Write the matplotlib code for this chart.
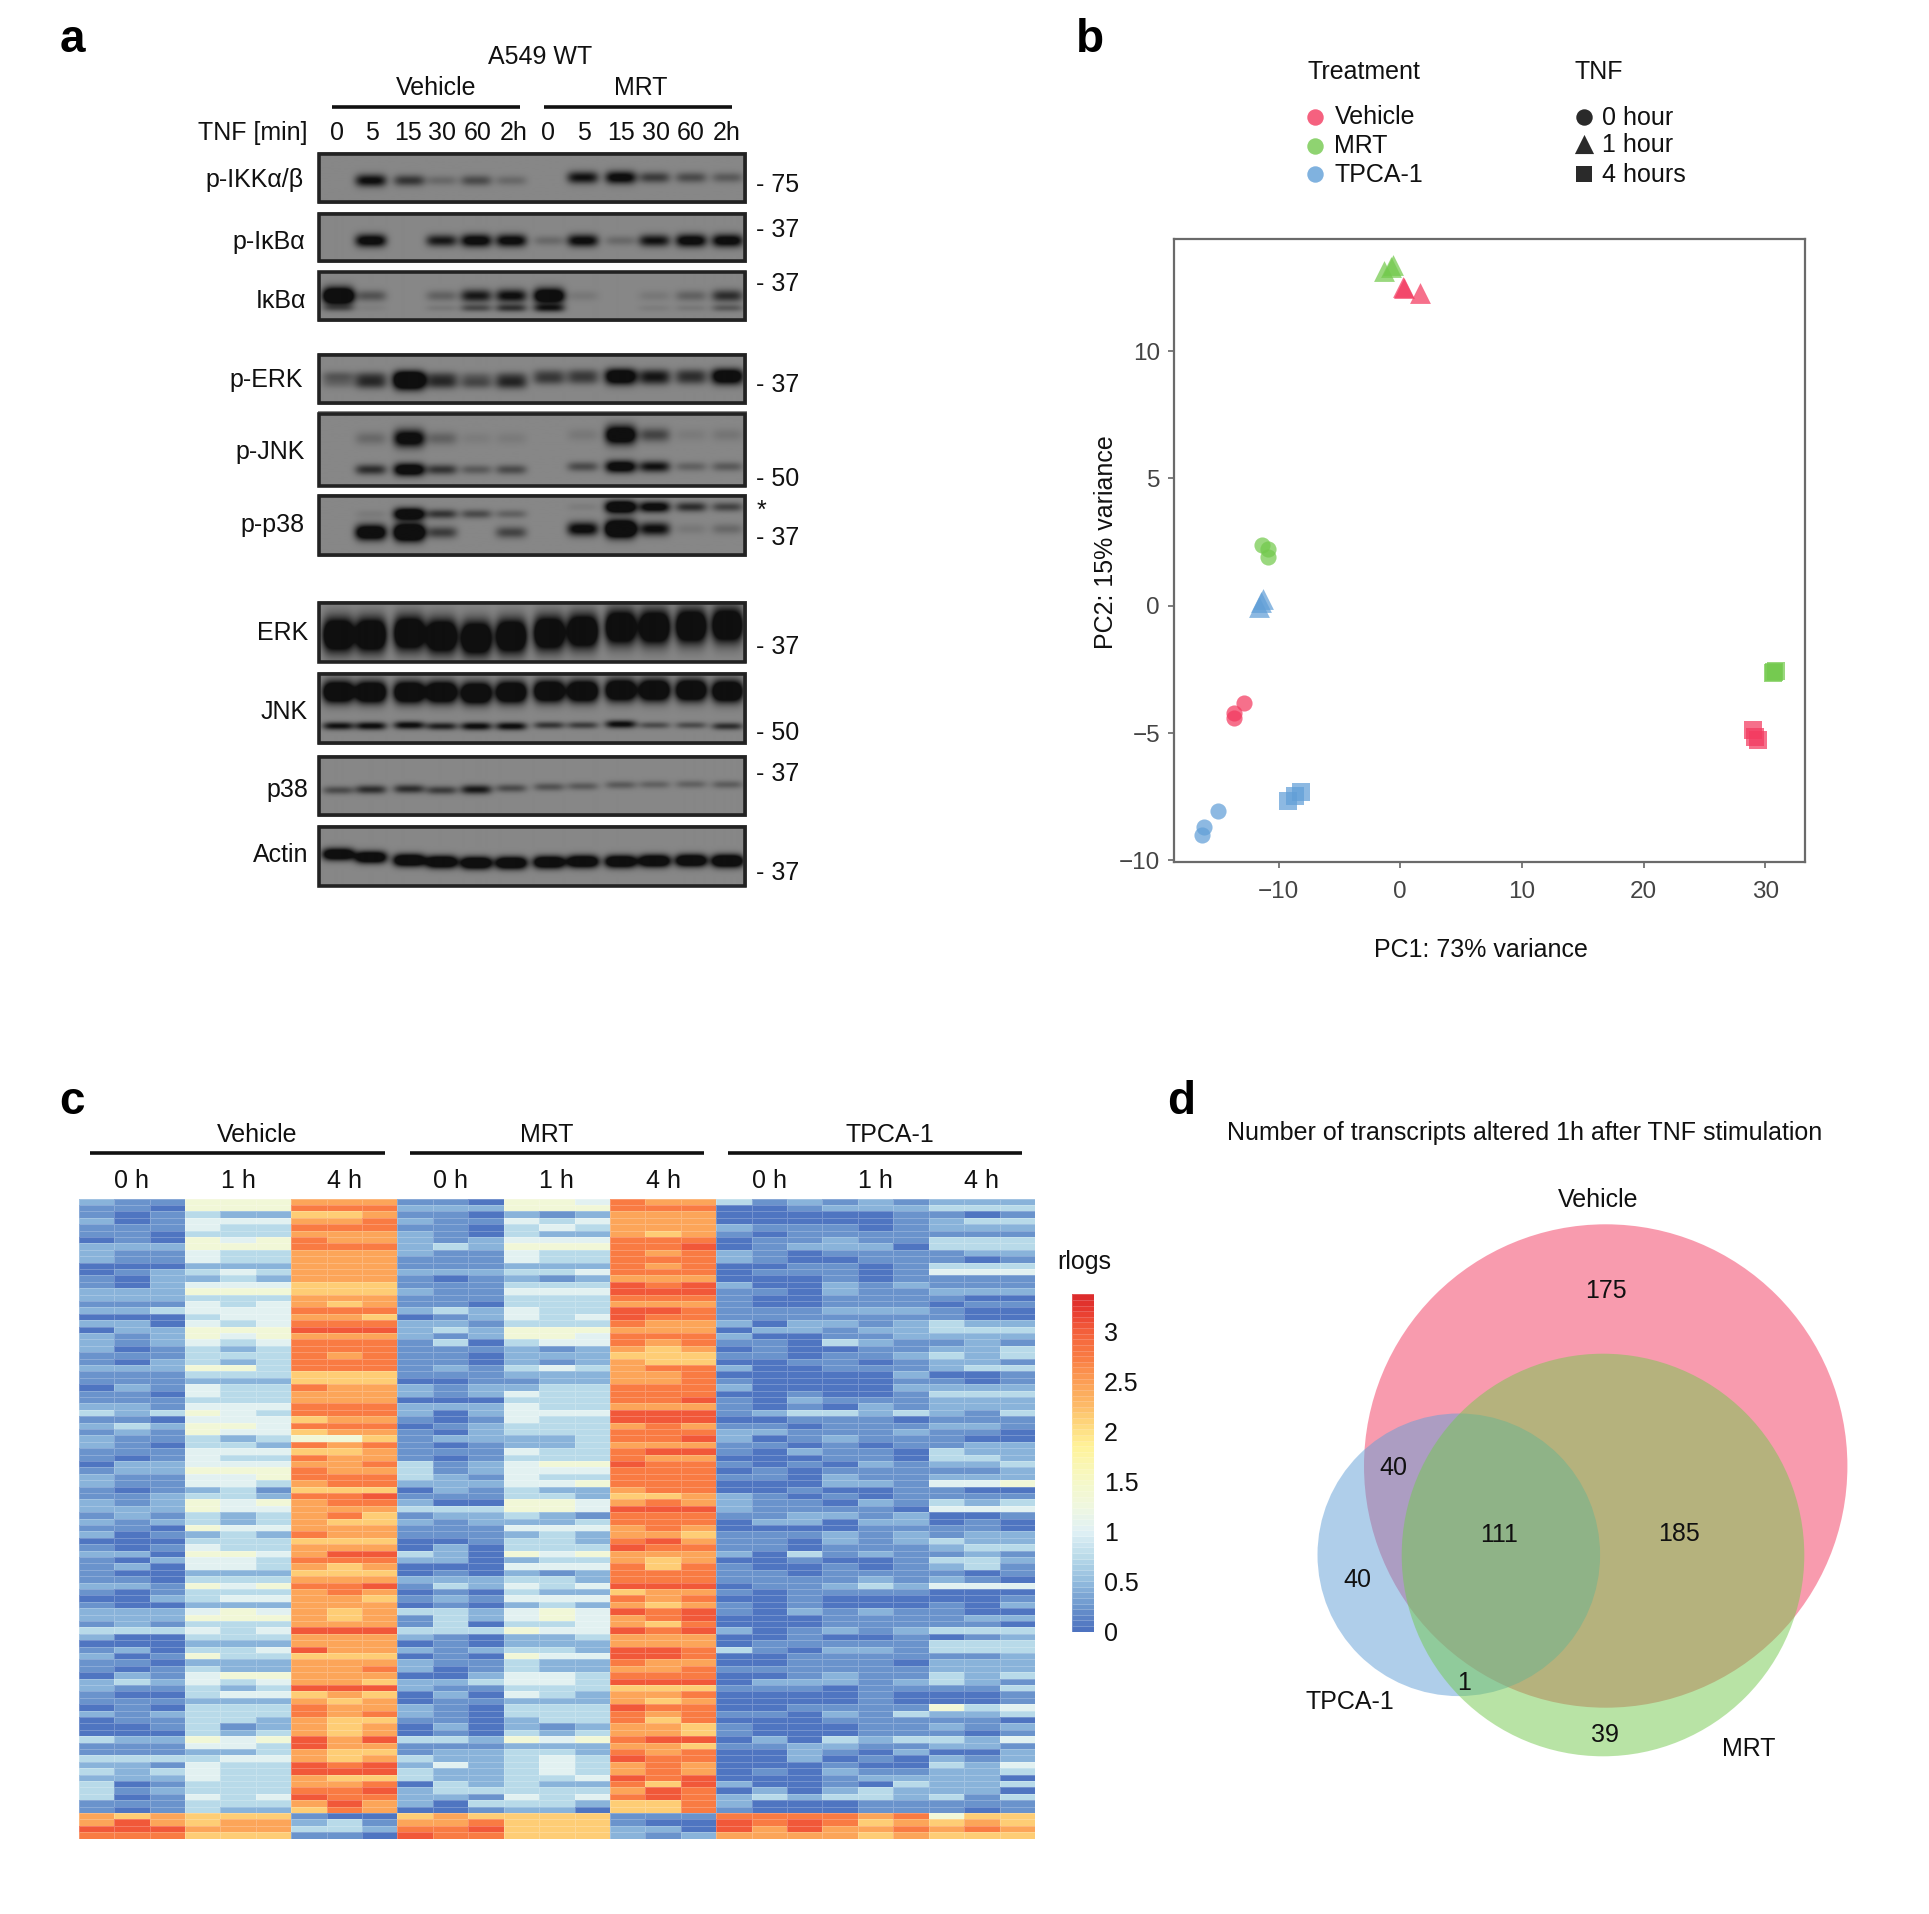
import numpy as np
import matplotlib
matplotlib.use("Agg")
import matplotlib.pyplot as plt
from matplotlib.colors import LinearSegmentedColormap
from matplotlib.patches import Circle, Rectangle

plt.rcParams['font.family'] = ['Liberation Sans', 'DejaVu Sans']

W, H = 1929, 1914

# panel a, band strength per lane (0, 5, 15, 30, 60, 2h for Vehicle then MRT)
lane_labels = ['0', '5', '15', '30', '60', '2h', '0', '5', '15', '30', '60', '2h']
p_ikk = [0, .85, .55, .2, .4, .2, 0, .8, .95, .5, .4, .3]
p_ikba = [0, 1, 0, .75, 1, .95, .2, .9, .2, .8, 1, 1]
ikba_up = [1.6, .35, 0, .25, .75, .85, 1.3, .1, 0, .1, .25, .6]
ikba_low = [.3, .05, 0, .1, .4, .55, .7, 0, 0, .07, .1, .3]
p_erk_up = [.3, .35, .9, .35, .2, .3, .25, .3, .7, .4, .35, .7]
p_erk_low = [.2, .55, 1.2, .55, .4, .6, .45, .4, .85, .6, .45, .8]
p_jnk_up = [0, .2, 1.1, .25, .07, .08, 0, .1, 1.3, .45, .08, .12]
p_jnk_low = [0, .6, 1.2, .55, .3, .4, 0, .4, 1.1, .8, .25, .3]
p_p38_up = [0, .08, 1.3, .55, .4, .25, 0, .07, 1.4, 1, .6, .45]
p_p38_low = [0, 1.3, 1.7, .5, 0, .45, 0, .95, 1.8, .85, .1, .2]
erk = [1.6] * 12
jnk_up = [1.6] * 12
jnk_low = [.8, .85, .85, .7, .85, .85, .55, .5, .85, .4, .4, .6]
p38 = [.4, .6, .6, .5, .75, .4, .35, .3, .3, .25, .25, .28]
actin = [1.3, 1.3, 1.4, 1.4, 1.4, 1.4, 1.4, 1.4, 1.4, 1.4, 1.4, 1.5]

# panel b, PCA scores
pc_vehicle_0h = ([-12.87, -13.67, -13.67], [-3.81, -4.21, -4.41])
pc_mrt_0h = ([-11.39, -10.84, -10.84], [2.38, 2.21, 1.93])
pc_tpca_0h = ([-14.98, -16.17, -16.33], [-8.06, -8.70, -9.0])
pc_vehicle_1h = ([0.2, 0.32, 1.63], [12.52, 12.49, 12.27])
pc_mrt_1h = ([-0.6, -0.8, -1.31], [13.39, 13.29, 13.13])
pc_tpca_1h = ([-11.27, -11.43, -11.63], [0.26, 0.13, -0.03])
pc_vehicle_4h = ([29.0, 29.16, 29.44], [-4.86, -5.15, -5.28])
pc_mrt_4h = ([30.88, 30.72, 30.6], [-2.58, -2.61, -2.63])
pc_tpca_4h = ([-8.17, -8.69, -9.2], [-7.30, -7.46, -7.65])

# panel c, one digit per cell, looked up in heat_levels (rlog)
heat_levels = [0.05, 0.25, 0.45, 0.75, 1.05, 1.35, 2.15, 2.45, 2.75, 3.05]
heat_vehicle = [
    '211555777', '110555888', '101322667', '201444778', '111433888', '110333777', '010545877', '222555888', '211433777', '211433777',
    '000222777', '012343777', '102232777', '102444666', '222555666', '222333777', '111434767', '223444888', '000344776', '220434888',
    '022555999', '212545777', '212434888', '201323888', '111333878', '102323888', '222553888', '111333666', '111222666', '021433877',
    '110433777', '111333777', '221444888', '323543888', '110444677', '232554888', '121544677', '211323556', '210332878', '111444667',
    '101433877', '022444778', '122555877', '211445888', '211443788', '101231666', '112332889', '212545788', '222544777', '121323786',
    '212323766', '110544777', '201232877', '000333666', '101433777', '220554799', '102443888', '120443767', '100222666', '110333777',
    '221545889', '101333787', '002344776', '100222777', '222454767', '222555767', '121333777', '333434999', '200333777', '000222777',
    '120334977', '201533666', '110222777', '101322778', '021455777', '232434776', '211323999', '100344676', '111222767', '010333877',
    '212333878', '011332766', '001312767', '000323767', '322545979', '111443977', '111223766', '333344767', '221433989', '323433999',
    '222433766', '301333778', '312333889', '301434988', '111333797', '101322687', '767666100', '797677231', '999777332', '888666110',
]
heat_mrt = [
    '110554877', '222555888', '110212777', '211434777', '110343777', '210322767', '212444888', '232555889', '211433878', '111433888',
    '111222878', '222334888', '101212777', '111333989', '211444999', '111333888', '110333777', '232433998', '012434988', '221333877',
    '232555777', '212554888', '130344878', '111212767', '110222666', '110212766', '121343788', '111222778', '001122778', '212233888',
    '212433888', '000333889', '222433777', '202444999', '101433999', '012333787', '102333888', '122223889', '101223777', '111433899',
    '101333877', '312455988', '312444888', '321433888', '222445888', '021322788', '111332667', '200554787', '333554999', '122321888',
    '212223888', '111444787', '111232776', '001332897', '020333988', '320545777', '220233767', '000444868', '010212888', '222332888',
    '132434999', '010322677', '121444878', '010232767', '332454989', '132454789', '130334768', '333544989', '210223777', '010222777',
    '212332998', '010544998', '211322877', '201322778', '002443888', '223443999', '211333666', '020432778', '011222767', '210333988',
    '210333878', '110233868', '020212776', '010323776', '332545899', '111222776', '122332878', '322343988', '242343787', '322343787',
    '322334989', '032322869', '233333798', '221434898', '203332668', '001220668', '676666111', '778666100', '889666220', '988666212',
]
heat_tpca = [
    '312121222', '001222333', '000001101', '000001233', '211101222', '101111111', '011211333', '012220333', '210111122', '210011101',
    '001101333', '011101444', '000101111', '200212111', '110211222', '100111100', '100111011', '111222100', '111111100', '202212322',
    '022122333', '200112222', '110321121', '010011223', '110112323', '001101221', '200111233', '000002001', '100001101', '200002222',
    '001001333', '102111222', '101021222', '123323213', '001110111', '110111221', '221112110', '201211100', '110101122', '102110322',
    '000110332', '101021223', '010111112', '110211222', '000221445', '001001100', '210101111', '211021323', '211110444', '112212001',
    '022022010', '000011110', '111212122', '110212322', '110111233', '203121121', '001001332', '100101231', '110111101', '111121210',
    '011232444', '101111000', '001000001', '101000102', '102121100', '000111122', '000111110', '201212333', '001001012', '011111333',
    '310221333', '001111112', '001110222', '111111222', '001211323', '022212321', '111011113', '000010001', '000010001', '001111534',
    '110213223', '000111110', '100011212', '100011101', '020323324', '112211221', '002102002', '002010212', '000100324', '010211223',
    '000122220', '200103223', '020232220', '232332313', '200011111', '100011101', '888878566', '989867676', '979778787', '777767666',
]
heat_hours = ['0 h', '1 h', '4 h'] * 3
heat_ticks = [0, 0.5, 1, 1.5, 2, 2.5, 3]
heat_tick_labels = ['0', '0.5', '1', '1.5', '2', '2.5', '3']

# panel d, transcript counts
venn_counts = {'vehicle': 175, 'vehicle_tpca': 40, 'all': 111, 'vehicle_mrt': 185, 'tpca': 40, 'mrt_tpca': 1, 'mrt': 39}

red = '#f3395f'
green = '#73c94d'
blue = '#619fd7'


def px_axes(x0, y0, x1, y1):
    return fig.add_axes([x0 / W, 1 - y1 / H, (x1 - x0) / W, (y1 - y0) / H])


def label(x, y, s, size=18, ha='center', **kw):
    ax.text(x, y + 1.5, s, fontsize=size, ha=ha, va='center', color=kw.pop('color', '#111111'), **kw)


fig = plt.figure(figsize=(W / 100, H / 100), dpi=100, facecolor='white')
ax = fig.add_axes([0, 0, 1, 1])
ax.axis('off')

for x, y, s in [(72, 39, 'a'), (1090, 39, 'b'), (72, 1100, 'c'), (1181, 1100, 'd')]:
    label(x, y, s, size=33, fontweight='bold', color='black')

# ---- a: western blots
lane_x = (np.array([375, 452, 543, 620, 702, 785, 875, 955, 1045, 1125, 1212, 1298]) / 2.376) + 180
blot_x0, blot_x1 = 317.6, 746


def six_six(a, b):
    return [a] * 6 + [b] * 6


blots = [
    ('p-IKKα/β', 152.6, 203.9, 304, 178, 15.5, [(p_ikk, six_six(28, 25), 6.5)]),
    ('p-IκBα', 212, 262.8, 305.4, 241, 15.5, [(p_ikba, 28.4, 6.5)]),
    ('IκBα', 270.9, 321.8, 306, 299, 15.5, [(ikba_up, 24.6, 7), (ikba_low, 36.8, 4.5)]),
    ('p-ERK', 353.3, 404.9, 303, 378, 16, [(p_erk_up, six_six(23, 20), 6.5), (p_erk_low, six_six(29.8, 26), 7)]),
    ('p-JNK', 412.3, 487.4, 305, 451, 15.5, [(p_jnk_up, six_six(27, 23.5), 8.5), (p_jnk_low, six_six(58, 55), 6)]),
    ('p-p38', 494.4, 556.8, 304.6, 523.5, 15.5, [(p_p38_up, six_six(19.6, 12.6), 5.5), (p_p38_low, six_six(37.9, 34.4), 7)]),
    ('ERK', 601.3, 663.3, 308, 631.7, 15.5, [(erk, [33.7, 33.7, 32, 35, 37, 35, 32, 30, 26, 26, 25, 24], 14)]),
    ('JNK', 672, 744.7, 307.5, 710.7, 15.5, [(jnk_up, [19.7, 20, 20, 20, 21, 20, 19, 19, 18, 18, 18, 19], 9), (jnk_low, [53.7, 53.7, 53, 54, 54, 54, 53, 53, 52, 53, 53, 54], 4.2)]),
    ('p38', 755, 816.7, 308, 788, 15.5, [(p38, [35, 34.3, 33.7, 35, 34.3, 33, 31.7, 31, 29.7, 29.3, 29, 29.3], 5)]),
    ('Actin', 825.7, 887.3, 308, 854, 16, [(actin, [29, 32, 35, 36.7, 37.7, 37.7, 37, 36.3, 36.3, 35.7, 35.3, 35.7], 5.5)]),
]
bg, dark = 0.53, 0.06
for name, y0, y1, xlab, ylab, wx, bands in blots:
    xs = np.arange(blot_x0, blot_x1, 0.5)
    ys = np.arange(0, y1 - y0, 0.5)
    gx, gy = np.meshgrid(xs, ys)
    d = np.zeros_like(gx)
    for strength, yc, hh in bands:
        yc = np.broadcast_to(yc, (12,))
        for i in range(12):
            a = strength[i]
            hy = hh * (0.7 + 0.3 * min(a, 1.7))
            d += a * np.exp(-((gx - lane_x[i]) / wx) ** 4) * np.exp(-((gy - yc[i]) / hy) ** 2)
    img = bg - (bg - dark) * np.clip(d * 1.25, 0, 1)
    ax.imshow(img, extent=(blot_x0, blot_x1, y1, y0), cmap='gray', vmin=0, vmax=1, aspect='auto', zorder=1)
    ax.add_patch(Rectangle((blot_x0 + 1.5, y0 + 1.5), blot_x1 - blot_x0 - 3, y1 - y0 - 3, fill=False, ec='#222222', lw=2.6, zorder=2))
    label(xlab, ylab, name, ha='right')

label(540, 55, 'A549 WT')
label(436, 86.7, 'Vehicle')
label(641, 86.7, 'MRT')
ax.plot([331.5, 519.6], [107, 107], color='#111111', lw=2.6, solid_capstyle='butt')
ax.plot([543.6, 732], [107, 107], color='#111111', lw=2.6, solid_capstyle='butt')
label(308, 131.6, 'TNF [min]', ha='right')
for i, s in enumerate(lane_labels):
    label([336.6, 371.5, 408.5, 442, 478, 513.3, 548.3, 584, 621, 655.6, 690.5, 726.3][i], 131.6, s)
for y, s in [(184, '- 75'), (228.8, '- 37'), (282.5, '- 37'), (383, '- 37'), (478, '- 50'), (536.5, '- 37'),
             (646, '- 37'), (731, '- 50'), (772.7, '- 37'), (871.7, '- 37')]:
    label(756.5, y, s, ha='left')
label(761, 509, '*')

# ---- b: PCA
pax = px_axes(1174, 238.5, 1805, 862)
groups = [
    (pc_vehicle_0h, red, 'o', 135), (pc_mrt_0h, green, 'o', 135), (pc_tpca_0h, blue, 'o', 135),
    (pc_vehicle_1h, red, '^', 225), (pc_mrt_1h, green, '^', 225), (pc_tpca_1h, blue, '^', 225),
    (pc_vehicle_4h, red, 's', 170), (pc_mrt_4h, green, 's', 170), (pc_tpca_4h, blue, 's', 170),
]
for (px, py), c, m, s in groups:
    pax.scatter(px, py, c=c, marker=m, s=s, alpha=0.72, linewidths=0)
pax.set_xlim(-18.6, 33.27)
pax.set_ylim(-10.06, 14.42)
pax.set_xticks([-10, 0, 10, 20, 30])
pax.set_yticks([-10, -5, 0, 5, 10])
pax.tick_params(colors='#444444', labelsize=17.5, length=4, width=1.2, color='#666666')
pax.tick_params(axis='x', pad=10)
pax.tick_params(axis='y', pad=6)
for sp in pax.spines.values():
    sp.set_color('#6a6a6a')
    sp.set_linewidth(1.6)
label(1481, 948.5, 'PC1: 73% variance')
label(1106, 541, 'PC2: 15% variance', rotation=90)

label(1307, 70.7, 'Treatment', ha='left')
label(1574.7, 70.7, 'TNF', ha='left')
for y, c, s in [(116.7, red, 'Vehicle'), (145.7, green, 'MRT'), (174.3, blue, 'TPCA-1')]:
    ax.scatter([1315.4], [y], c=c, marker='o', s=140, alpha=0.8, linewidths=0)
    label(1334.5, y - 1, s, ha='left')
for y, m, sz, s in [(116.7, 'o', 140, '0 hour'), (144, '^', 190, '1 hour'), (174, 's', 130, '4 hours')]:
    ax.scatter([1584], [y], c='#2a2a2a', marker=m, s=sz, linewidths=0)
    label(1602.4, y, s, ha='left')

# ---- c: heatmap
heat_cmap = LinearSegmentedColormap.from_list('rlogs', [
    (0 / 3.4, '#4a6fbf'), (0.25 / 3.4, '#6b95cd'), (0.5 / 3.4, '#93bcde'), (0.75 / 3.4, '#b9dae9'),
    (1.0 / 3.4, '#dff0f5'), (1.25 / 3.4, '#eff7e0'), (1.5 / 3.4, '#f5f8c8'), (1.85 / 3.4, '#fff39a'),
    (2.05 / 3.4, '#fedc80'), (2.25 / 3.4, '#fdbd69'), (2.5 / 3.4, '#fc9f55'), (2.75 / 3.4, '#f97c43'),
    (3.0 / 3.4, '#f4623c'), (3.2 / 3.4, '#e83c30'), (3.4 / 3.4, '#d9262a')])
rows = [a + b + c for a, b, c in zip(heat_vehicle, heat_mrt, heat_tpca)]
levels = np.array(heat_levels)
heat = levels[np.array([[int(ch) for ch in r] for r in rows])]

hax = px_axes(78.7, 1198.5, 1035, 1838.5)
hax.pcolormesh(heat, cmap=heat_cmap, vmin=0, vmax=3.4, edgecolors=(1, 1, 1, 0.22), linewidth=0.5)
hax.set_ylim(len(rows), 0)
hax.set_yticks([])
hax.xaxis.tick_top()
hax.set_xticks(np.arange(1.5, 27, 3))
hax.set_xticklabels(heat_hours, fontsize=18, color='#111111')
hax.tick_params(axis='x', length=0, pad=4)
for sp in hax.spines.values():
    sp.set_visible(False)

for x0, x1, xt, s in [(90, 385, 257, 'Vehicle'), (410, 704, 547, 'MRT'), (728, 1022, 889.5, 'TPCA-1')]:
    ax.plot([x0, x1], [1153, 1153], color='#111111', lw=2.6, solid_capstyle='butt')
    label(xt, 1133, s)

cax = px_axes(1072, 1294.3, 1094.3, 1631.7)
cvals = np.linspace(0, 3.37, 61)
cax.pcolormesh([0, 1], cvals, (cvals[:-1] + cvals[1:]).reshape(-1, 1) / 2, cmap=heat_cmap, vmin=0, vmax=3.4,
               edgecolors=(1, 1, 1, 0.2), linewidth=0.5)
cax.set_xticks([])
cax.yaxis.tick_right()
cax.set_yticks(heat_ticks)
cax.set_yticklabels(heat_tick_labels, fontsize=18, color='#111111')
cax.tick_params(axis='y', length=0, pad=7)
for sp in cax.spines.values():
    sp.set_visible(False)
label(1057, 1260, 'rlogs', ha='left')

# ---- d: venn
for cx, cy, r, c in [(1605.7, 1466, 241.7, red), (1458.8, 1554.8, 141.3, blue), (1603, 1555, 201.3, green)]:
    ax.add_patch(Circle((cx, cy), r, fc=c, ec='none', alpha=0.5))
label(1524.5, 1131.4, 'Number of transcripts altered 1h after TNF stimulation')
label(1597.7, 1198.5, 'Vehicle')
label(1350, 1700.3, 'TPCA-1')
label(1748.5, 1747, 'MRT')
label(1606.4, 1289.8, str(venn_counts['vehicle']))
label(1393.6, 1466.6, str(venn_counts['vehicle_tpca']))
label(1499.3, 1533.6, str(venn_counts['all']))
label(1678.7, 1532.7, str(venn_counts['vehicle_mrt']))
label(1357.8, 1578.6, str(venn_counts['tpca']))
label(1464.4, 1682, str(venn_counts['mrt_tpca']))
label(1605, 1733.4, str(venn_counts['mrt']))

ax.set_xlim(0, W)
ax.set_ylim(H, 0)
fig.savefig('out.png', dpi=100, facecolor='white')
